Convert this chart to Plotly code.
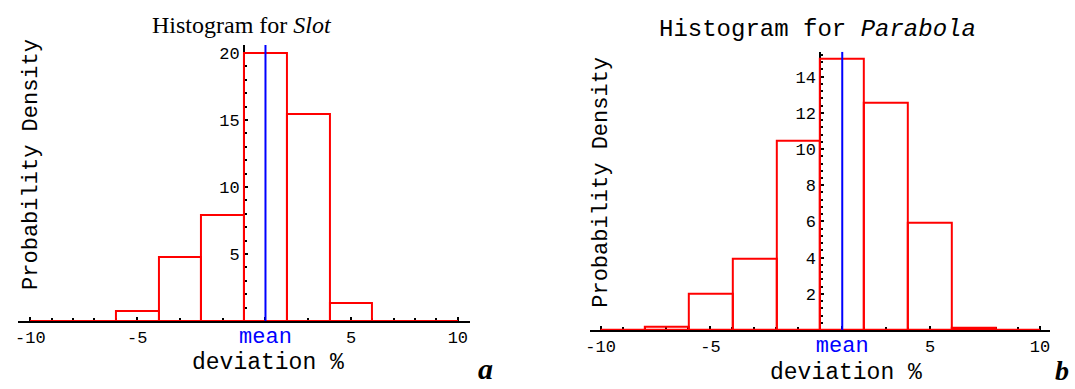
import plotly.graph_objects as go

# ---- data ----
bin_edges = [-10, -8, -6, -4, -2, 0, 2, 4, 6, 8, 10]
slot_density = [0, 0, 0.75, 4.8, 7.9, 20.0, 15.45, 1.35, 0, 0]
parabola_density = [0, 0.2, 2.0, 3.95, 10.45, 15.0, 12.55, 5.95, 0.1, 0]
slot_mean = 1.0
parabola_mean = 1.0
x_tick_vals = [-10, -5, 5, 10]
x_tick_text = ["-10", "-5", "5", "10"]
slot_y_ticks = [5, 10, 15, 20]
parabola_y_ticks = [2, 4, 6, 8, 10, 12, 14]

RED = "#ff0000"
BLUE = "#0000ff"
MONO = "Courier New, Liberation Mono, monospace"
SERIF = "Liberation Serif, Times New Roman, serif"

W, H = 1075, 389

centers = [(a + b) / 2 for a, b in zip(bin_edges[:-1], bin_edges[1:])]
widths = [b - a for a, b in zip(bin_edges[:-1], bin_edges[1:])]

fig = go.Figure()


def add_panel(fig, dens, mean, xa, ya, ytop):
    fig.add_trace(go.Scatter(x=[bin_edges[0], bin_edges[-1]], y=[0, 0], mode="lines",
                             line=dict(color=RED, width=2), xaxis=xa, yaxis=ya,
                             showlegend=False, hoverinfo="skip"))
    fig.add_trace(go.Bar(x=centers, y=dens, width=widths,
                         marker=dict(color="rgba(0,0,0,0)", line=dict(color=RED, width=2)),
                         xaxis=xa, yaxis=ya, showlegend=False))
    fig.add_trace(go.Scatter(x=[mean, mean], y=[0, ytop], mode="lines",
                             line=dict(color=BLUE, width=2), xaxis=xa, yaxis=ya,
                             showlegend=False, hoverinfo="skip"))


a_ytop = 20.6
b_ytop = 15.38
add_panel(fig, slot_density, slot_mean, "x", "y", a_ytop)
add_panel(fig, parabola_density, parabola_mean, "x2", "y2", b_ytop)

mean_txt = "<span style='color:#0000ff;font-size:22px'>mean</span>"


def xaxis_cfg(domain_px, rng, mean, anchor):
    return dict(
        domain=[domain_px[0] / W, domain_px[1] / W], range=rng, anchor=anchor,
        showgrid=False, zeroline=False, showline=True, linecolor="black", linewidth=2,
        layer="below traces",
        tickmode="array", tickvals=x_tick_vals[:2] + [mean] + x_tick_vals[2:],
        ticktext=x_tick_text[:2] + [mean_txt] + x_tick_text[2:],
        ticks="inside", ticklen=4, tickwidth=2, tickcolor="black",
        minor=dict(tickmode="linear", tick0=0, dtick=1, ticks="inside", ticklen=3,
                   tickwidth=2, tickcolor="black"),
        tickfont=dict(family=MONO, size=17, color="black"),
        fixedrange=True,
    )


def yaxis_cfg(domain_px, rng, ticks, minor_dt, pos):
    return dict(
        domain=[1 - domain_px[1] / H, 1 - domain_px[0] / H], range=rng,
        anchor="free", position=pos,
        showgrid=False, zeroline=False, showline=True, linecolor="black", linewidth=2,
        layer="below traces",
        tickmode="array", tickvals=ticks, ticks="inside", ticklen=3, tickwidth=2,
        tickcolor="black",
        minor=dict(tickmode="linear", tick0=0, dtick=minor_dt, ticks="inside", ticklen=2,
                   tickwidth=2, tickcolor="black"),
        tickfont=dict(family=MONO, size=17, color="black"),
        fixedrange=True,
    )


fig.update_layout(
    width=W, height=H, margin=dict(l=0, r=0, t=0, b=0),
    paper_bgcolor="white", plot_bgcolor="rgba(0,0,0,0)",
    showlegend=False, bargap=0,
    xaxis=xaxis_cfg([14, 468], [-10.58, 10.58], slot_mean, "y"),
    yaxis=yaxis_cfg([45, 321], [0, a_ytop], slot_y_ticks, 1, 241 / W),
    xaxis2=xaxis_cfg([588, 1050], [-10.49, 10.46], parabola_mean, "y2"),
    yaxis2=yaxis_cfg([51.7, 330], [0, b_ytop], parabola_y_ticks, 0.4, 819.3 / W),
)

ann = [
    dict(text="Histogram for <i>Slot</i>", x=239, y=25, font=dict(family=SERIF, size=24)),
    dict(text="Histogram for <i>Parabola</i>", x=817, y=30, font=dict(family=MONO, size=24)),
    dict(text="Probability Density", x=28, y=164, textangle=-90, font=dict(family=MONO, size=22)),
    dict(text="Probability Density", x=600, y=182, textangle=-90, font=dict(family=MONO, size=22)),
    dict(text="deviation %", x=265, y=363, font=dict(family=MONO, size=23)),
    dict(text="deviation %", x=845, y=373, font=dict(family=MONO, size=23)),
    dict(text="<b><i>a</i></b>", x=483, y=368, font=dict(family=SERIF, size=30)),
    dict(text="<b><i>b</i></b>", x=1062, y=370, font=dict(family=SERIF, size=28)),
]
for a in ann:
    fig.add_annotation(text=a["text"], x=a["x"] / W, y=1 - a["y"] / H, xref="paper", yref="paper",
                       xanchor="center", yanchor="middle", showarrow=False,
                       textangle=a.get("textangle", 0),
                       font=dict(color="black", **a["font"]))

fig.write_html("out.html")
